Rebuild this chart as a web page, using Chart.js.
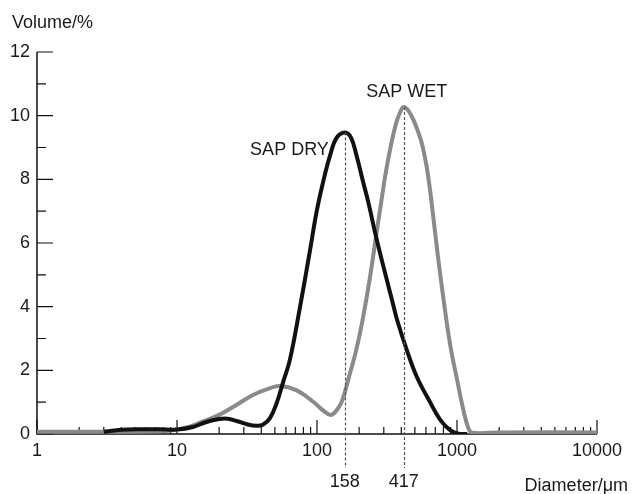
<!DOCTYPE html>
<html lang="en">
<head>
<meta charset="UTF-8" />
<title>SAP particle size distribution</title>
<script src="https://cdn.jsdelivr.net/npm/chart.js"></script>
<style>
  html, body { margin: 0; padding: 0; background: #fff; }
  #wrap { width: 632px; height: 494px; }
</style>
</head>
<body>
<div id="wrap"><canvas id="psd" width="632" height="494"></canvas></div>
<script>
  // values (diameter in um, volume in %)
  const dryDiameter = [3, 4, 5.5, 7.5, 10, 13, 16, 20, 23, 27, 32, 37, 41, 46, 51.5, 57, 64, 75, 89, 99, 111, 124, 138, 158, 175, 192, 214, 232, 267, 315, 343, 373, 437, 516, 642, 757, 893, 1052, 1181];
  const dryVolume = [0.07, 0.13, 0.15, 0.15, 0.14, 0.22, 0.37, 0.47, 0.48, 0.40, 0.30, 0.26, 0.29, 0.49, 0.97, 1.6, 2.33, 3.9, 5.75, 6.95, 7.95, 8.75, 9.3, 9.47, 9.31, 8.73, 7.9, 7.3, 6.11, 4.85, 4.22, 3.59, 2.65, 1.8, 1.0, 0.45, 0.12, 0.0, 0.0];

  const wetDiameter = [1, 2, 4, 6, 8.8, 12.3, 15.2, 20, 26.5, 34.6, 45.6, 54, 71, 93.5, 112, 126, 140, 152, 170.5, 190.7, 211.6, 237.4, 266, 288.9, 311, 335, 366.7, 391.7, 417, 450.6, 489.3, 526.9, 562.9, 601.2, 631.5, 663.6, 736, 836, 907, 1002, 1111, 1206, 1282, 2000, 10000];
  const wetVolume = [0.07, 0.07, 0.07, 0.08, 0.10, 0.23, 0.39, 0.60, 0.91, 1.22, 1.43, 1.51, 1.38, 1.02, 0.72, 0.60, 0.78, 1.07, 1.85, 2.64, 3.58, 4.84, 6.30, 7.35, 8.25, 9.0, 9.75, 10.1, 10.27, 10.15, 9.86, 9.5, 9.1, 8.5, 7.9, 7.15, 5.47, 3.64, 2.64, 1.70, 0.75, 0.18, 0.04, 0.05, 0.05];

  const seriesNames = ['SAP DRY', 'SAP WET'];
  const peakDiameter = [158, 417];
  const peakVolume = [9.47, 10.27];
  const peakLabels = ['158', '417'];

  const xTicks = [1, 10, 100, 1000, 10000];
  const xMinorTicks = [2, 3, 4, 5, 6, 7, 8, 9, 20, 30, 40, 50, 60, 70, 80, 90, 200, 300, 400, 500, 600, 700, 800, 900, 2000, 3000, 4000, 5000, 6000, 7000, 8000, 9000];
  const yTicks = [0, 2, 4, 6, 8, 10, 12];
  const yMinorTicks = [1, 3, 5, 7, 9, 11];

  const FONT = 'Liberation Sans, Arial, Helvetica, sans-serif';
  const TEXT = '#1a1a1a';

  const toPoints = (xs, ys) => xs.map((x, i) => ({ x: x, y: ys[i] }));

  // axes with inward ticks, drawn under the curves
  const axesPlugin = {
    id: 'axes',
    beforeDatasetsDraw(chart) {
      const { ctx, chartArea: a, scales: { x, y } } = chart;
      ctx.save();
      ctx.strokeStyle = '#111';
      ctx.lineWidth = 1.5;
      ctx.beginPath();
      ctx.moveTo(a.left, y.getPixelForValue(12));
      ctx.lineTo(a.left, a.bottom);
      ctx.lineTo(x.getPixelForValue(10000), a.bottom);
      ctx.stroke();

      ctx.lineWidth = 1.2;
      ctx.beginPath();
      yTicks.forEach(v => {
        const py = y.getPixelForValue(v);
        ctx.moveTo(a.left, py);
        ctx.lineTo(a.left + 16, py);
      });
      yMinorTicks.forEach(v => {
        const py = y.getPixelForValue(v);
        ctx.moveTo(a.left, py);
        ctx.lineTo(a.left + 9, py);
      });
      xTicks.forEach(v => {
        const px = x.getPixelForValue(v);
        ctx.moveTo(px, a.bottom);
        ctx.lineTo(px, a.bottom - 14);
      });
      xMinorTicks.forEach(v => {
        const px = x.getPixelForValue(v);
        ctx.moveTo(px, a.bottom);
        ctx.lineTo(px, a.bottom - 7);
      });
      ctx.stroke();
      ctx.restore();
    },
    afterDraw(chart) {
      const { ctx, chartArea: a, scales: { x, y } } = chart;
      ctx.save();

      // dashed lines from each peak down below the axis
      ctx.strokeStyle = '#555';
      ctx.lineWidth = 1.2;
      ctx.setLineDash([3, 2]);
      peakDiameter.forEach((d, i) => {
        const px = Math.round(x.getPixelForValue(d)) + 0.5;
        ctx.beginPath();
        ctx.moveTo(px, y.getPixelForValue(peakVolume[i]));
        ctx.lineTo(px, a.bottom + 34);
        ctx.stroke();
      });
      ctx.setLineDash([]);

      ctx.fillStyle = TEXT;
      ctx.font = '18px ' + FONT;
      ctx.textBaseline = 'alphabetic';

      ctx.textAlign = 'center';
      peakDiameter.forEach((d, i) => {
        ctx.fillText(peakLabels[i], x.getPixelForValue(d), a.bottom + 53);
      });

      // series names next to their peaks
      const dryX = x.getPixelForValue(peakDiameter[0]);
      const dryY = y.getPixelForValue(peakVolume[0]);
      ctx.textAlign = 'right';
      ctx.fillText(seriesNames[0], dryX - 16, dryY + 22);
      const wetX = x.getPixelForValue(peakDiameter[1]);
      const wetY = y.getPixelForValue(peakVolume[1]);
      ctx.textAlign = 'center';
      ctx.fillText(seriesNames[1], wetX + 3, wetY - 10);

      // axis titles
      ctx.textAlign = 'left';
      ctx.fillText('Volume/%', 12, 28);
      ctx.textAlign = 'right';
      ctx.fillText('Diameter/\u03bcm', 628, 491);
      ctx.restore();
    }
  };

  new Chart(document.getElementById('psd'), {
    type: 'line',
    data: {
      datasets: [
        {
          label: seriesNames[0],
          data: toPoints(dryDiameter, dryVolume),
          borderColor: '#111111',
          borderWidth: 4,
          tension: 0.4,
          fill: false,
          order: 0
        },
        {
          label: seriesNames[1],
          data: toPoints(wetDiameter, wetVolume),
          borderColor: '#8a8a8a',
          borderWidth: 4,
          tension: 0.4,
          fill: false,
          order: 1
        }
      ]
    },
    options: {
      responsive: false,
      animation: false,
      devicePixelRatio: 1,
      layout: { padding: { left: 0, right: 35, top: 52, bottom: 0 } },
      elements: { point: { radius: 0 } },
      plugins: {
        legend: { display: false },
        tooltip: { enabled: false }
      },
      scales: {
        x: {
          type: 'logarithmic',
          min: 1,
          max: 10000,
          afterBuildTicks: s => { s.ticks = xTicks.map(v => ({ value: v })); },
          afterFit: s => { s.height = 60; },
          grid: { display: false, drawTicks: false },
          border: { display: false },
          ticks: {
            color: TEXT,
            font: { family: FONT, size: 18 },
            padding: 6,
            maxRotation: 0,
            autoSkip: false,
            callback: v => String(v)
          }
        },
        y: {
          min: 0,
          max: 12,
          afterBuildTicks: s => { s.ticks = yTicks.map(v => ({ value: v })); },
          afterFit: s => { s.width = 37; },
          grid: { display: false, drawTicks: false },
          border: { display: false },
          ticks: {
            color: TEXT,
            font: { family: FONT, size: 18 },
            padding: 7,
            callback: v => String(v)
          }
        }
      }
    },
    plugins: [axesPlugin]
  });
</script>
</body>
</html>
